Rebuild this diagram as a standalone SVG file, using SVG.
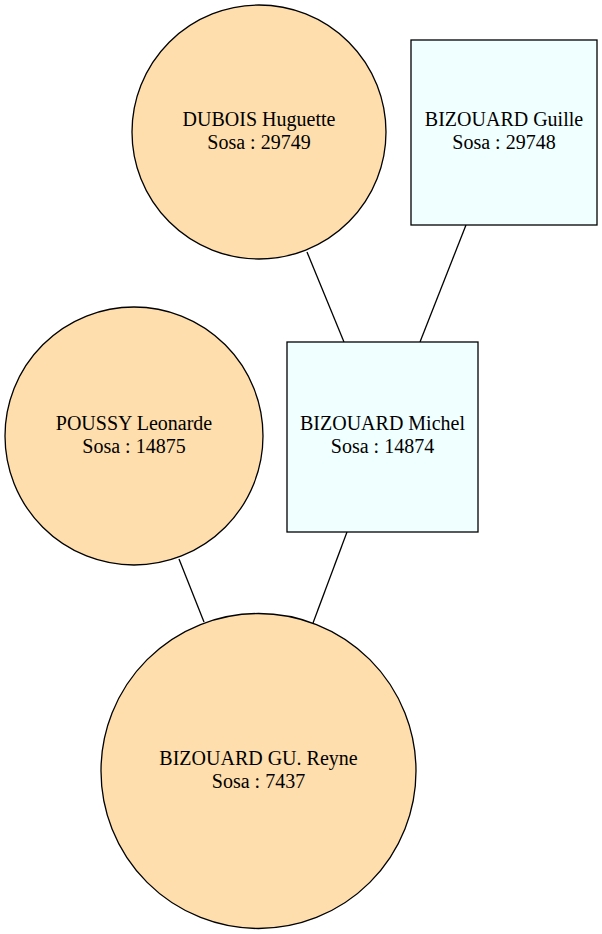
<svg xmlns="http://www.w3.org/2000/svg" width="602" height="934" viewBox="0 0 602 934">
<style>
.f{fill:#ffdead;stroke:#000;stroke-width:1.3}
.m{fill:#f0ffff;stroke:#000;stroke-width:1.3}
.e{stroke:#000;stroke-width:1.3;fill:none}
text{font-family:"Liberation Serif","Times New Roman",serif;font-size:20px;text-anchor:middle;fill:#000}
</style>
<rect width="602" height="934" fill="#fff"/>
<g id="edges">
<line class="e" x1="307" y1="252" x2="344" y2="342"/>
<line class="e" x1="466" y1="225" x2="420" y2="342"/>
<line class="e" x1="179" y1="559" x2="204" y2="622"/>
<line class="e" x1="347" y1="532" x2="313" y2="623"/>
</g>
<g id="dubois">
<circle class="f" cx="259" cy="132" r="127"/>
<text x="259" y="126">DUBOIS Huguette</text>
<text x="259" y="149">Sosa : 29749</text>
</g>
<g id="guille">
<rect class="m" x="411" y="40" width="186" height="185"/>
<text x="504" y="126">BIZOUARD Guille</text>
<text x="504" y="149">Sosa : 29748</text>
</g>
<g id="poussy">
<circle class="f" cx="134" cy="436" r="129"/>
<text x="134" y="430">POUSSY Leonarde</text>
<text x="134" y="453">Sosa : 14875</text>
</g>
<g id="michel">
<rect class="m" x="287" y="342" width="191" height="190"/>
<text x="382.5" y="430">BIZOUARD Michel</text>
<text x="382.5" y="453">Sosa : 14874</text>
</g>
<g id="reyne">
<circle class="f" cx="258.5" cy="771" r="157.5"/>
<text x="258.5" y="765">BIZOUARD GU. Reyne</text>
<text x="258.5" y="788">Sosa : 7437</text>
</g>
</svg>
